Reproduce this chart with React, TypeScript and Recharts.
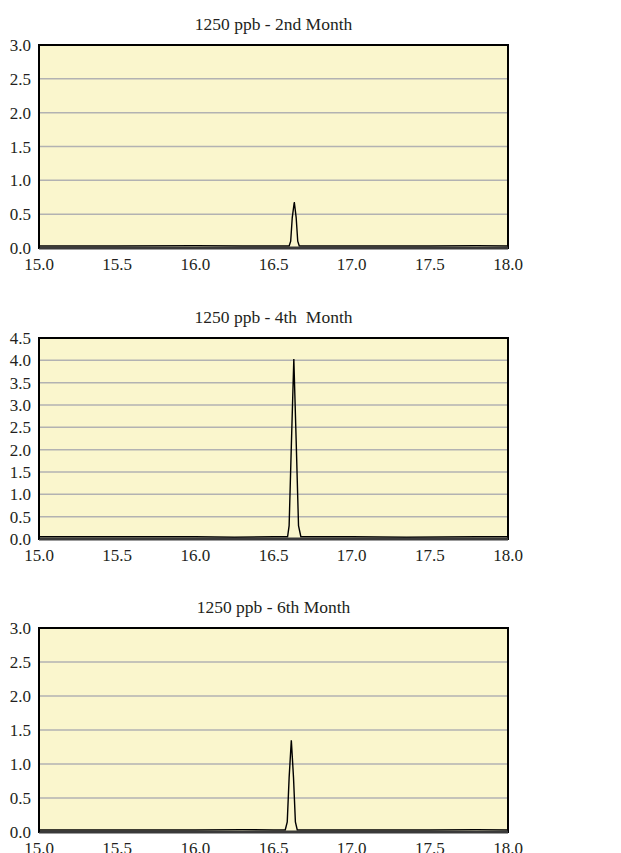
import React from 'react';
import { LineChart, Line, XAxis, YAxis, CartesianGrid, ReferenceArea } from 'recharts';

const xTicks = [15.0, 15.5, 16.0, 16.5, 17.0, 17.5, 18.0];
const yTicksLow = [0, 0.5, 1.0, 1.5, 2.0, 2.5, 3.0];
const yTicksHigh = [0, 0.5, 1.0, 1.5, 2.0, 2.5, 3.0, 3.5, 4.0, 4.5];

const titles = ['1250 ppb - 2nd Month', '1250 ppb - 4th  Month', '1250 ppb - 6th Month'];

const time2nd = [15.0, 15.5, 16.0, 16.3, 16.5, 16.6, 16.61, 16.62, 16.633, 16.645, 16.655, 16.665, 17.0, 17.5, 17.8, 18.0];
const signal2nd = [0.03, 0.03, 0.035, 0.03, 0.03, 0.03, 0.1, 0.45, 0.68, 0.45, 0.1, 0.03, 0.03, 0.03, 0.035, 0.03];

const time4th = [15.0, 15.5, 16.0, 16.25, 16.5, 16.59, 16.6, 16.615, 16.63, 16.645, 16.66, 16.675, 17.0, 17.35, 17.8, 18.0];
const signal4th = [0.05, 0.05, 0.05, 0.04, 0.05, 0.05, 0.3, 2.2, 4.03, 2.2, 0.3, 0.05, 0.05, 0.04, 0.05, 0.05];

const time6th = [15.0, 15.5, 16.0, 16.3, 16.5, 16.575, 16.588, 16.6, 16.614, 16.628, 16.64, 16.652, 17.0, 17.5, 17.8, 18.0];
const signal6th = [0.03, 0.03, 0.03, 0.035, 0.03, 0.03, 0.15, 0.8, 1.35, 0.8, 0.15, 0.03, 0.03, 0.03, 0.035, 0.03];

const zip = (xs: number[], ys: number[]) => xs.map((t, i) => ({ t, v: ys[i] }));

const font = '"Liberation Serif", serif';
const tickStyle = { fill: '#231f20', fontSize: 17, fontFamily: font };

interface PanelProps {
  title: string;
  data: { t: number; v: number }[];
  yTicks: number[];
  top: number;
  plotH: number;
}

const Panel: React.FC<PanelProps> = ({ title, data, yTicks, top, plotH }) => {
  const yMax = yTicks[yTicks.length - 1];
  return (
    <div style={{ position: 'absolute', left: 0, top: top - 32, width: 621 }}>
      <div style={{ position: 'absolute', left: 39, width: 469, top: 0, textAlign: 'center', fontFamily: font, fontSize: 17.5, color: '#231f20', lineHeight: '22px', whiteSpace: 'pre' }}>
        {title}
      </div>
      <div style={{ position: 'absolute', left: 0, top: 22 }}>
        <LineChart width={621} height={plotH + 40} data={data} margin={{ top: 10, right: 113, left: 0, bottom: 0 }}>
          <CartesianGrid vertical={false} horizontal fill="#faf6cd" stroke="#b2b2b2" strokeWidth={1.5} />
          <ReferenceArea x1={15} x2={18} y1={0} y2={yMax} fill="none" stroke="#000" strokeWidth={2} ifOverflow="visible" />
          <XAxis dataKey="t" type="number" domain={[15, 18]} ticks={xTicks} tickFormatter={(t: number) => t.toFixed(1)}
            height={30} tickLine={false} tickMargin={4} axisLine={{ stroke: '#3a3a3a', strokeWidth: 3 }} tick={tickStyle} interval={0} />
          <YAxis type="number" domain={[0, yMax]} ticks={yTicks} tickFormatter={(v: number) => v.toFixed(1)}
            width={39} tickLine={false} axisLine={{ stroke: '#000', strokeWidth: 2 }} tick={tickStyle} interval={0} />
          <Line type="linear" dataKey="v" stroke="#000" strokeWidth={1.4} dot={false} isAnimationActive={false} />
        </LineChart>
      </div>
    </div>
  );
};

export default function App() {
  return (
    <div style={{ position: 'absolute', left: 0, top: 0, width: 621, height: 853, background: '#fff' }}>
      <Panel title={titles[0]} data={zip(time2nd, signal2nd)} yTicks={yTicksLow} top={45} plotH={203} />
      <Panel title={titles[1]} data={zip(time4th, signal4th)} yTicks={yTicksHigh} top={338} plotH={201} />
      <Panel title={titles[2]} data={zip(time6th, signal6th)} yTicks={yTicksLow} top={628} plotH={204} />
    </div>
  );
}
